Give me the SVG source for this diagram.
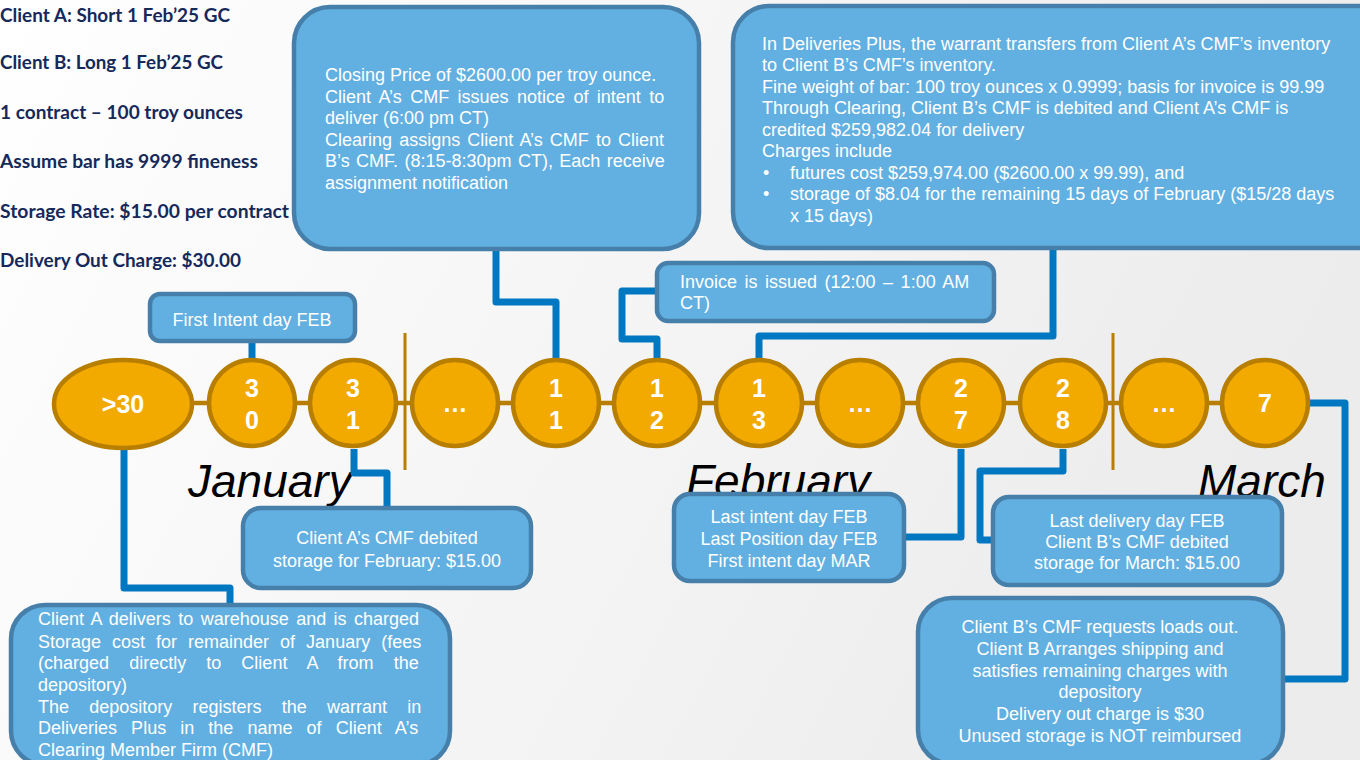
<svg xmlns="http://www.w3.org/2000/svg" width="1360" height="760" viewBox="0 0 1360 760">
<defs>
<linearGradient id="bg" x1="0" y1="0" x2="1" y2="0.3">
<stop offset="0" stop-color="#ffffff"/>
<stop offset="1" stop-color="#ececec"/>
</linearGradient>
<style>
.info{font-family:"Lato","Liberation Sans",sans-serif;font-weight:bold;font-size:18px;fill:#15295a}
.month{font-family:"Liberation Sans",Arial,sans-serif;font-style:italic;font-size:46px;fill:#000}
.box{fill:#62b0e1;stroke:#467fa9;stroke-width:4.5}
.bt{font-family:"Liberation Sans",Arial,sans-serif;font-size:18px;fill:#ffffff}
.c{text-anchor:middle}
.day{fill:#f2a900;stroke:#b77e00;stroke-width:4.5}
.dt{font-family:"Liberation Sans",Arial,sans-serif;font-weight:bold;font-size:25px;fill:#ffffff;text-anchor:middle}
.conn{fill:none;stroke:#0077c1;stroke-width:7;stroke-linejoin:round}
.tl{stroke:#b77e00;stroke-width:4.5}
.div{stroke:#b77e00;stroke-width:3}
</style>
</defs>
<rect x="0" y="0" width="1360" height="760" fill="url(#bg)"/>

<g id="assumptions">
<text class="info" x="0" y="21.5" textLength="230" lengthAdjust="spacingAndGlyphs">Client A: Short 1 Feb’25 GC</text>
<text class="info" x="0" y="69" textLength="223" lengthAdjust="spacingAndGlyphs">Client B: Long 1 Feb’25 GC</text>
<text class="info" x="0" y="119" textLength="243" lengthAdjust="spacingAndGlyphs">1 contract – 100 troy ounces</text>
<text class="info" x="0" y="168" textLength="258" lengthAdjust="spacingAndGlyphs">Assume bar has 9999 fineness</text>
<text class="info" x="0" y="218" textLength="289" lengthAdjust="spacingAndGlyphs">Storage Rate: $15.00 per contract</text>
<text class="info" x="0" y="267" textLength="241" lengthAdjust="spacingAndGlyphs">Delivery Out Charge: $30.00</text>
</g>

<g id="months">
<text class="month" x="188" y="497">January</text>
<text class="month" x="686" y="497">February</text>
<text class="month" x="1198" y="497">March</text>
</g>

<g id="connectors">
<path class="conn" d="M124,449 V588 H230 V604"/>
<path class="conn" d="M252,358 V341"/>
<path class="conn" d="M354,449 V473 H387 V507"/>
<path class="conn" d="M556,358 V302 H496 V249"/>
<path class="conn" d="M657,358 V339 H622 V291 H657"/>
<path class="conn" d="M759,358 V336 H1053 V248"/>
<path class="conn" d="M961,449 V537 H905"/>
<path class="conn" d="M1063,449 V471 H980 V540 H993"/>
<path class="conn" d="M1310,403 H1345 V679 H1284"/>
</g>

<g id="timeline">
<line class="tl" x1="123" y1="403" x2="1265" y2="403"/>
<line class="div" x1="405" y1="333" x2="405" y2="470"/>
<line class="div" x1="1113" y1="333" x2="1113" y2="470"/>
</g>

<g id="day-gt30"><ellipse class="day" cx="123" cy="404" rx="69" ry="44"/><text class="dt" x="123" y="413">&gt;30</text></g>
<g id="day-jan30"><circle class="day" cx="252" cy="403" r="43"/><text class="dt" x="252" y="397">3</text><text class="dt" x="252" y="429">0</text></g>
<g id="day-jan31"><circle class="day" cx="353" cy="403" r="43"/><text class="dt" x="353" y="397">3</text><text class="dt" x="353" y="429">1</text></g>
<g id="day-gap1"><circle class="day" cx="455" cy="403" r="43"/><text class="dt" x="455" y="412">…</text></g>
<g id="day-feb11"><circle class="day" cx="556" cy="403" r="43"/><text class="dt" x="556" y="397">1</text><text class="dt" x="556" y="429">1</text></g>
<g id="day-feb12"><circle class="day" cx="657" cy="403" r="43"/><text class="dt" x="657" y="397">1</text><text class="dt" x="657" y="429">2</text></g>
<g id="day-feb13"><circle class="day" cx="759" cy="403" r="43"/><text class="dt" x="759" y="397">1</text><text class="dt" x="759" y="429">3</text></g>
<g id="day-gap2"><circle class="day" cx="860" cy="403" r="43"/><text class="dt" x="860" y="412">…</text></g>
<g id="day-feb27"><circle class="day" cx="961" cy="403" r="43"/><text class="dt" x="961" y="397">2</text><text class="dt" x="961" y="429">7</text></g>
<g id="day-feb28"><circle class="day" cx="1063" cy="403" r="43"/><text class="dt" x="1063" y="397">2</text><text class="dt" x="1063" y="429">8</text></g>
<g id="day-gap3"><circle class="day" cx="1164" cy="403" r="43"/><text class="dt" x="1164" y="412">…</text></g>
<g id="day-mar7"><circle class="day" cx="1265" cy="403" r="43"/><text class="dt" x="1265" y="412">7</text></g>

<g id="box-closing">
<rect class="box" x="294" y="7" width="405" height="242" rx="36"/>
<text class="bt" x="325" y="81">Closing Price of $2600.00 per troy ounce.</text>
<text class="bt" x="325" y="102.5" word-spacing="3.4">Client A’s CMF issues notice of intent to</text>
<text class="bt" x="325" y="124">deliver (6:00 pm CT)</text>
<text class="bt" x="325" y="145.5" word-spacing="2.1">Clearing assigns Client A’s CMF to Client</text>
<text class="bt" x="325" y="167" word-spacing="1.4">B’s CMF. (8:15-8:30pm CT), Each receive</text>
<text class="bt" x="325" y="188.5">assignment notification</text>
</g>

<g id="box-transfer">
<rect class="box" x="733" y="6" width="660" height="242" rx="36"/>
<text class="bt" x="762" y="49.5">In Deliveries Plus, the warrant transfers from Client A’s CMF’s inventory</text>
<text class="bt" x="762" y="71">to Client B’s CMF’s inventory.</text>
<text class="bt" x="762" y="92.5">Fine weight of bar: 100 troy ounces x 0.9999; basis for invoice is 99.99</text>
<text class="bt" x="762" y="114">Through Clearing, Client B’s CMF is debited and Client A’s CMF is</text>
<text class="bt" x="762" y="135.5">credited $259,982.04 for delivery</text>
<text class="bt" x="762" y="157">Charges include</text>
<text class="bt" x="763" y="178.5">•</text>
<text class="bt" x="790" y="178.5">futures cost $259,974.00 ($2600.00 x 99.99), and</text>
<text class="bt" x="763" y="200">•</text>
<text class="bt" x="790" y="200">storage of $8.04 for the remaining 15 days of February ($15/28 days</text>
<text class="bt" x="790" y="221.5">x 15 days)</text>
</g>

<g id="box-invoice">
<rect class="box" x="657" y="263" width="337" height="58" rx="11"/>
<text class="bt" x="680" y="287.5" word-spacing="2.5">Invoice is issued (12:00 – 1:00 AM</text>
<text class="bt" x="680" y="309">CT)</text>
</g>

<g id="box-first-intent">
<rect class="box" x="150" y="294" width="205" height="47" rx="10"/>
<text class="bt c" x="252" y="326">First Intent day FEB</text>
</g>

<g id="box-jan-storage">
<rect class="box" x="243" y="508" width="288" height="80" rx="18"/>
<text class="bt c" x="387" y="544">Client A’s CMF debited</text>
<text class="bt c" x="387" y="566.5">storage for February: $15.00</text>
</g>

<g id="box-deliver">
<rect class="box" x="11" y="605" width="439" height="160" rx="34"/>
<text class="bt" x="38" y="625" word-spacing="2.4">Client A delivers to warehouse and is charged</text>
<text class="bt" x="38" y="647.5" word-spacing="6">Storage cost for remainder of January (fees</text>
<text class="bt" x="38" y="669" word-spacing="15.1">(charged directly to Client A from the</text>
<text class="bt" x="38" y="690.5">depository)</text>
<text class="bt" x="38" y="712.5" word-spacing="15.2">The depository registers the warrant in</text>
<text class="bt" x="38" y="734" word-spacing="9.1">Deliveries Plus in the name of Client A’s</text>
<text class="bt" x="38" y="755.5">Clearing Member Firm (CMF)</text>
</g>

<g id="box-last-intent">
<rect class="box" x="674" y="494" width="230" height="87" rx="16"/>
<text class="bt c" x="789" y="523">Last intent day FEB</text>
<text class="bt c" x="789" y="545">Last Position day FEB</text>
<text class="bt c" x="789" y="566.5">First intent day MAR</text>
</g>

<g id="box-last-delivery">
<rect class="box" x="993" y="497" width="289" height="88" rx="16"/>
<text class="bt c" x="1137" y="526.5">Last delivery day FEB</text>
<text class="bt c" x="1137" y="547.5">Client B’s CMF debited</text>
<text class="bt c" x="1137" y="569">storage for March: $15.00</text>
</g>

<g id="box-load-out">
<rect class="box" x="918" y="598" width="365" height="166" rx="34"/>
<text class="bt c" x="1100" y="633">Client B’s CMF requests loads out.</text>
<text class="bt c" x="1100" y="655">Client B Arranges shipping and</text>
<text class="bt c" x="1100" y="676.5">satisfies remaining charges with</text>
<text class="bt c" x="1100" y="698">depository</text>
<text class="bt c" x="1100" y="720">Delivery out charge is $30</text>
<text class="bt c" x="1100" y="741.5">Unused storage is NOT reimbursed</text>
</g>
</svg>
